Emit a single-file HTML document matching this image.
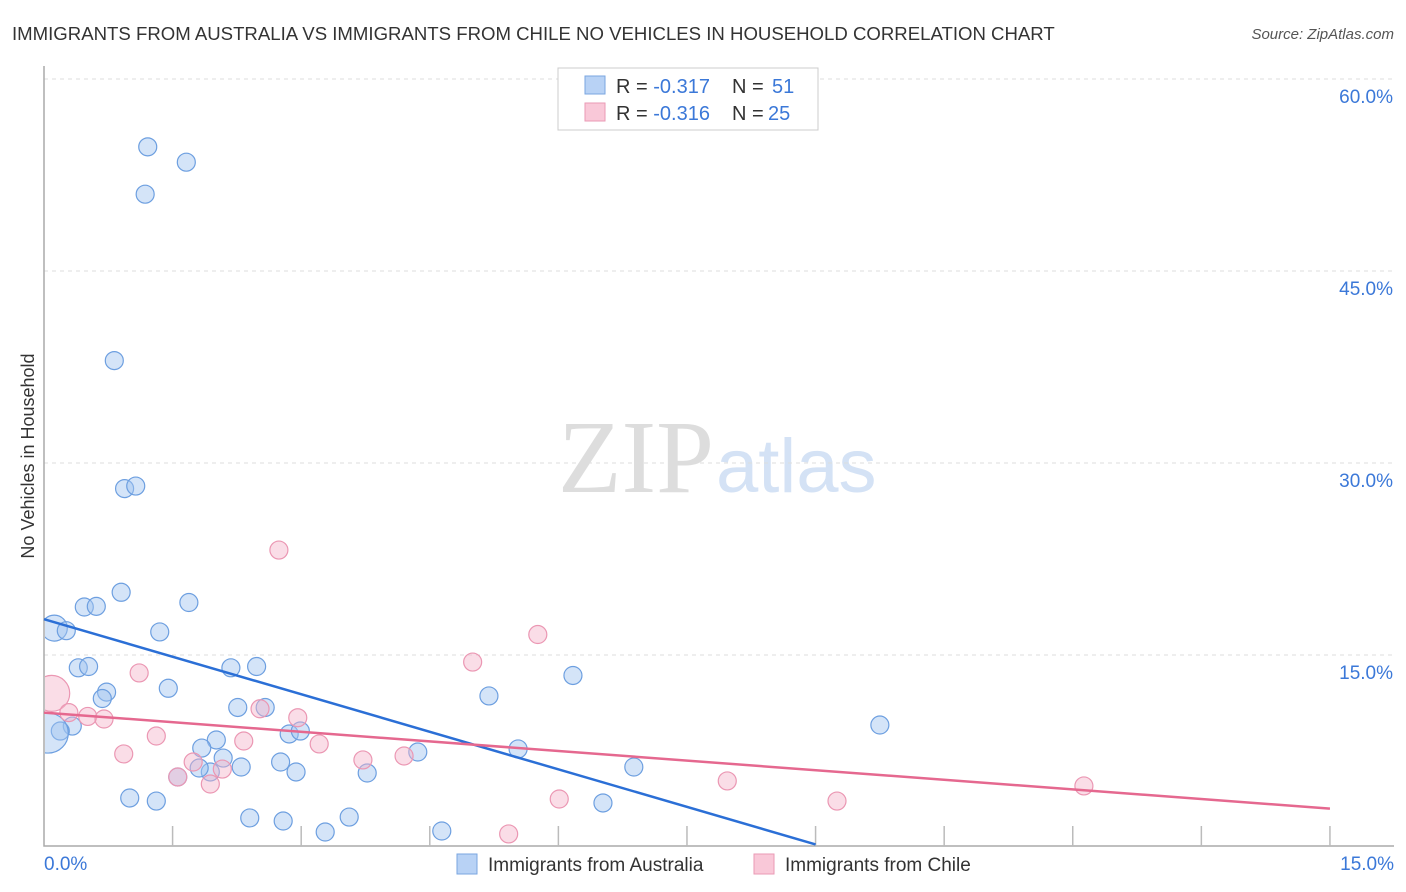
<!DOCTYPE html>
<html><head><meta charset="utf-8"><style>
body{margin:0;background:#fff;font-family:"Liberation Sans",sans-serif}
svg{display:block}
</style></head><body>
<svg id="c" width="1406" height="892" xmlns="http://www.w3.org/2000/svg">
<defs><clipPath id="plot"><rect x="45" y="60" width="1360" height="786"/></clipPath></defs>
<text x="12" y="40" font-size="18.6" fill="#333">IMMIGRANTS FROM AUSTRALIA VS IMMIGRANTS FROM CHILE NO VEHICLES IN HOUSEHOLD CORRELATION CHART</text>
<text x="1394" y="39" font-size="15" fill="#555" font-style="italic" text-anchor="end">Source: ZipAtlas.com</text>
<text x="714" y="492" font-size="104" font-family="Liberation Serif,serif" fill="#ddd" text-anchor="end">ZIP</text>
<text x="716" y="492" font-size="76" fill="#d4e2f5">atlas</text>
<text transform="translate(34,456) rotate(-90)" font-size="18" fill="#333" text-anchor="middle">No Vehicles in Household</text>
<g id="grid"></g><g id="pts" clip-path="url(#plot)"></g><g id="lines"></g>
<g>
<rect x="558" y="68" width="260" height="62" fill="#fff" stroke="#ccc"/>
<rect x="585" y="76" width="20" height="18" fill="#b8d2f5" stroke="#7aa6e0"/>
<rect x="585" y="103" width="20" height="18" fill="#f9c8d8" stroke="#ea9ab5"/>
<text x="616" y="93" font-size="20" fill="#333">R = <tspan fill="#3b78d8">-0.317</tspan></text>
<text x="732" y="93" font-size="20" fill="#333">N = <tspan x="772" fill="#3b78d8">51</tspan></text>
<text x="616" y="120" font-size="20" fill="#333">R = <tspan fill="#3b78d8">-0.316</tspan></text>
<text x="732" y="120" font-size="20" fill="#333">N = <tspan x="768" fill="#3b78d8">25</tspan></text>
</g>
<g>
<rect x="457" y="854" width="20" height="20" fill="#b8d2f5" stroke="#7aa6e0"/>
<text x="488" y="871" font-size="19" fill="#333">Immigrants from Australia</text>
<rect x="754" y="854" width="20" height="20" fill="#f9c8d8" stroke="#ea9ab5"/>
<text x="785" y="871" font-size="19" fill="#333">Immigrants from Chile</text>
</g>
</svg>
<script>
const yTicks=[15,30,45,60];
const xTickLabels=["0.0%","15.0%"];
const ausX=[1.21,1.66,1.18,0.82,0.94,1.07,0.90,0.47,0.61,1.69,1.35,0.12,0.26,0.40,0.52,1.45,0.73,0.68,2.18,2.48,2.26,2.58,0.33,0.19,0.05,2.01,1.84,2.09,1.94,1.81,2.30,2.76,2.94,2.86,2.99,4.36,3.77,5.19,5.53,6.17,6.88,9.75,1.00,1.31,2.40,2.79,3.28,3.56,4.64,6.52,1.56];
const ausY=[54.7,53.5,51.0,38.0,28.0,28.2,19.9,18.75,18.8,19.1,16.8,17.1,16.9,14.0,14.1,12.4,12.1,11.6,14.0,14.1,10.9,10.9,9.45,9.06,8.9,8.36,7.73,6.95,5.86,6.17,6.25,6.64,5.86,8.83,9.06,7.42,5.78,11.8,7.66,13.4,6.25,9.53,3.83,3.59,2.27,2.03,1.17,2.34,1.25,3.44,5.47];
const ausR=[9,9,9,9,9,9,9,9,9,9,9,13,9,9,9,9,9,9,9,9,9,9,9,9,20,9,9,9,9,9,9,9,9,9,9,9,9,9,9,9,9,9,9,9,9,9,9,9,9,9,9];
const chiX=[0.09,0.29,0.51,0.70,1.11,0.93,1.31,1.56,1.74,1.94,2.08,2.33,2.52,2.74,2.96,3.21,3.72,4.20,5.00,5.76,5.42,6.01,7.97,9.25,12.13];
const chiY=[12.0,10.5,10.2,10.0,13.6,7.27,8.67,5.47,6.64,4.92,6.09,8.28,10.8,23.2,10.1,8.05,6.8,7.11,14.45,16.6,1.02,3.75,5.16,3.59,4.77];
const chiR=[18,9,9,9,9,9,9,9,9,9,9,9,9,9,9,9,9,9,9,9,9,9,9,9,9];
const ausTrend=[[0,17.8],[9.0,0.2]];
const chiTrend=[[0,10.5],[15,3.0]];
const X=v=>44+v*85.73, Y=v=>847-v*12.8;
const NS="http://www.w3.org/2000/svg";
function mk(t,a,p){const e=document.createElementNS(NS,t);for(const k in a)e.setAttribute(k,a[k]);p.appendChild(e);return e;}
const grid=document.getElementById('grid');
yTicks.forEach(t=>{
 const l=mk('line',{x1:44,x2:1394,y1:Y(t),y2:Y(t),stroke:'#ddd','stroke-dasharray':'4,4'},grid);
 
 
 const tx=mk('text',{x:1393,y:Y(t)+24,'font-size':19,fill:'#3b78d8','text-anchor':'end'},grid);
 tx.textContent=t.toFixed(1)+'%';
 
 
});
const ax=mk('path',{d:'M44 66V846H1394',fill:'none',stroke:'#aaa','stroke-width':1.5},grid);


for(let i=1;i<=10;i++){const t=mk('line',{x1:X(i*1.5),x2:X(i*1.5),y1:826,y2:846,stroke:'#bbb','stroke-width':1.5},grid);
 
 }
[[0,'start',44],[1,'end',1394]].forEach(([i,a,x])=>{const t=mk('text',{x:x,y:870,'font-size':19,fill:'#3b78d8','text-anchor':a},grid);t.textContent=xTickLabels[i];
 
 });
const pts=document.getElementById('pts');
ausX.forEach((v,i)=>{const c=mk('circle',{cx:X(v),cy:Y(ausY[i]),r:ausR[i],fill:'rgba(160,195,240,0.45)',stroke:'#6d9fe0','stroke-width':1.2},pts);
 
 });
chiX.forEach((v,i)=>{const c=mk('circle',{cx:X(v),cy:Y(chiY[i]),r:chiR[i],fill:'rgba(245,180,202,0.45)',stroke:'#eb97b3','stroke-width':1.2},pts);
 
 });
const lines=document.getElementById('lines');
const l1=mk('line',{x1:X(ausTrend[0][0]),y1:Y(ausTrend[0][1]),x2:X(ausTrend[1][0]),y2:Y(ausTrend[1][1]),stroke:'#2b6fd6','stroke-width':2.5},lines);


const l2=mk('line',{x1:X(chiTrend[0][0]),y1:Y(chiTrend[0][1]),x2:X(chiTrend[1][0]),y2:Y(chiTrend[1][1]),stroke:'#e5688f','stroke-width':2.5},lines);


</script>
</body></html>
